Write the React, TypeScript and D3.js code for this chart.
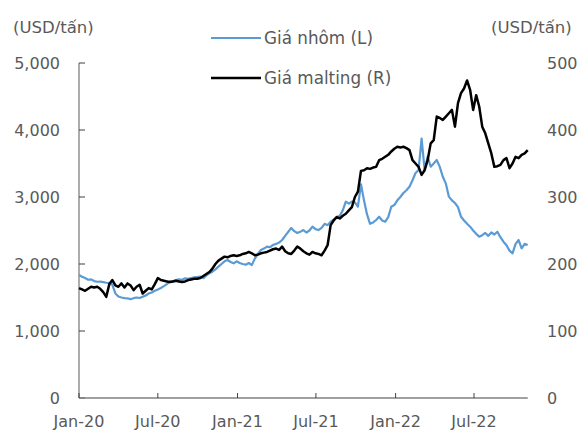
import React, { useEffect } from "react";
import * as d3 from "d3";

const START_DATE = "2020-01-01";
const STEP_DAYS = 7;

const aluminum: number[] = [
  1836, 1810, 1790, 1765, 1770, 1745, 1735, 1736, 1730, 1720,
  1716, 1690, 1560, 1515, 1500, 1490, 1488, 1475, 1490, 1500,
  1492, 1510, 1530, 1560, 1575, 1600, 1620, 1642, 1670, 1700,
  1736, 1745, 1760, 1770, 1765, 1786, 1780, 1790, 1800, 1805,
  1811, 1790, 1830, 1860, 1885, 1920, 1960, 2000, 2040, 2060,
  2030, 2010, 2040, 2015, 2000, 1990, 2015, 1985, 2080, 2150,
  2209, 2230, 2260, 2250, 2284, 2300, 2320, 2358, 2420, 2480,
  2537, 2490, 2463, 2480, 2507, 2470, 2500, 2557, 2520, 2507,
  2540, 2600, 2580, 2631, 2660, 2700, 2720, 2800, 2930, 2900,
  2930, 2920, 2855, 3190, 2950, 2740, 2600, 2620, 2657, 2706,
  2650, 2631, 2700, 2855, 2880, 2950, 3000, 3060, 3100, 3154,
  3250, 3358, 3403, 3870, 3403, 3602, 3452, 3500, 3552, 3450,
  3303, 3200, 3005, 2950, 2910, 2850, 2706, 2650, 2600, 2557,
  2500, 2450, 2408, 2430, 2463, 2420, 2470, 2440, 2482, 2400,
  2333, 2280, 2200, 2159, 2300, 2358, 2234, 2300, 2284,
];

const malting: number[] = [
  164, 162, 160, 163, 166, 165, 166, 163, 158, 151,
  170, 176, 168, 166, 171, 165, 171, 168, 161, 166,
  169, 156, 160, 164, 162, 170, 179, 176, 175, 174,
  173, 174, 175, 174, 173, 174, 176, 177, 178, 178,
  179, 182, 185, 188, 193, 200, 205, 208, 211, 210,
  212, 213, 212, 213, 215, 216, 218, 216, 213, 214,
  216, 217, 218, 220, 222, 223, 221, 226, 219, 216,
  215, 220, 226, 223, 219, 216, 214, 218, 216, 215,
  213, 220, 228, 258, 265, 270, 268, 272, 275, 280,
  285, 300, 308, 339, 340, 343, 342, 344, 345, 355,
  357, 360, 363, 368, 372, 375, 374, 375, 373, 370,
  355, 350, 345, 333, 340, 355, 380, 385, 420, 418,
  415, 420, 425, 430, 405, 440, 455, 462, 474, 460,
  430, 452, 435, 405, 395, 380, 365, 345, 346, 348,
  355, 358, 343, 350, 360, 358, 363, 365, 370,
];

const leftTicks = [0, 1000, 2000, 3000, 4000, 5000];
const rightTicks = [0, 100, 200, 300, 400, 500];
const xTickDates = ["2020-01-01", "2020-07-01", "2021-01-01", "2021-07-01", "2022-01-01", "2022-07-01"];
const xTickLabels = ["Jan-20", "Jul-20", "Jan-21", "Jul-21", "Jan-22", "Jul-22"];
const unitLabel = "(USD/tấn)";
const seriesNames = ["Giá nhôm (L)", "Giá malting (R)"];

const W = 579;
const H = 431;
const FONT = "'DejaVu Sans', Verdana, sans-serif";
const TXT = "#595959";

export default function App() {
  useEffect(() => {
    document.body.style.margin = "0";
  }, []);

  const parse = d3.utcParse("%Y-%m-%d");
  const start = parse(START_DATE) as Date;
  const dates = aluminum.map((_, i) => d3.utcDay.offset(start, i * STEP_DAYS));

  const x = d3
    .scaleUtc()
    .domain([parse("2020-01-01") as Date, parse("2022-07-01") as Date])
    .range([79, 474]);
  const yL = d3.scaleLinear().domain([0, 5000]).range([398, 63]);
  const yR = d3.scaleLinear().domain([0, 500]).range([398, 63]);

  const lineL = d3
    .line<number>()
    .x((_, i) => x(dates[i]))
    .y((d) => yL(d));
  const lineR = d3
    .line<number>()
    .x((_, i) => x(dates[i]))
    .y((d) => yR(d));

  const x0 = x(dates[0]);
  const xEnd = x(dates[dates.length - 1]);
  const fmt = d3.format(",");

  return (
    <svg width={W} height={H} style={{ display: "block", background: "#fff" }} fontFamily={FONT}>
      {/* left axis */}
      <line x1={x0} x2={x0} y1={yL(5000)} y2={yL(0)} stroke="#808080" strokeWidth={1.3} />
      {leftTicks.map((t) => (
        <g key={"l" + t}>
          <line x1={x0} x2={x0 + 6} y1={yL(t)} y2={yL(t)} stroke="#404040" strokeWidth={1} />
          <text x={60} y={yL(t)} dy="0.36em" textAnchor="end" fontSize={16} fill={TXT}>
            {fmt(t)}
          </text>
        </g>
      ))}
      {/* right axis labels */}
      {rightTicks.map((t) => (
        <text key={"r" + t} x={547} y={yR(t)} dy="0.36em" textAnchor="start" fontSize={16} fill={TXT}>
          {t}
        </text>
      ))}
      {/* bottom axis */}
      <line x1={x0} x2={xEnd} y1={398} y2={398} stroke="#808080" strokeWidth={1.3} />
      {xTickDates.map((d, i) => {
        const xx = x(parse(d) as Date);
        return (
          <g key={d}>
            <line x1={xx} x2={xx} y1={398} y2={393} stroke="#404040" strokeWidth={1} />
            <text x={xx} y={421} dy="0.36em" textAnchor="middle" fontSize={16} fill={TXT}>
              {xTickLabels[i]}
            </text>
          </g>
        );
      })}
      {/* unit labels */}
      <text x={13} y={27} dy="0.36em" fontSize={16.5} fill={TXT}>
        {unitLabel}
      </text>
      <text x={491} y={27} dy="0.36em" fontSize={16.5} fill={TXT}>
        {unitLabel}
      </text>
      {/* series */}
      <path d={lineL(aluminum) || ""} fill="none" stroke="#5B9BD5" strokeWidth={2.2} strokeLinejoin="round" />
      <path d={lineR(malting) || ""} fill="none" stroke="#000000" strokeWidth={2.5} strokeLinejoin="round" />
      {/* legend */}
      <line x1={211} x2={261} y1={38} y2={38} stroke="#5B9BD5" strokeWidth={2.2} />
      <text x={264} y={38} dy="0.36em" fontSize={16.8} fill={TXT}>
        {seriesNames[0]}
      </text>
      <line x1={211} x2={261} y1={78} y2={78} stroke="#000000" strokeWidth={2.5} />
      <text x={264} y={78} dy="0.36em" fontSize={16.8} fill={TXT}>
        {seriesNames[1]}
      </text>
    </svg>
  );
}
